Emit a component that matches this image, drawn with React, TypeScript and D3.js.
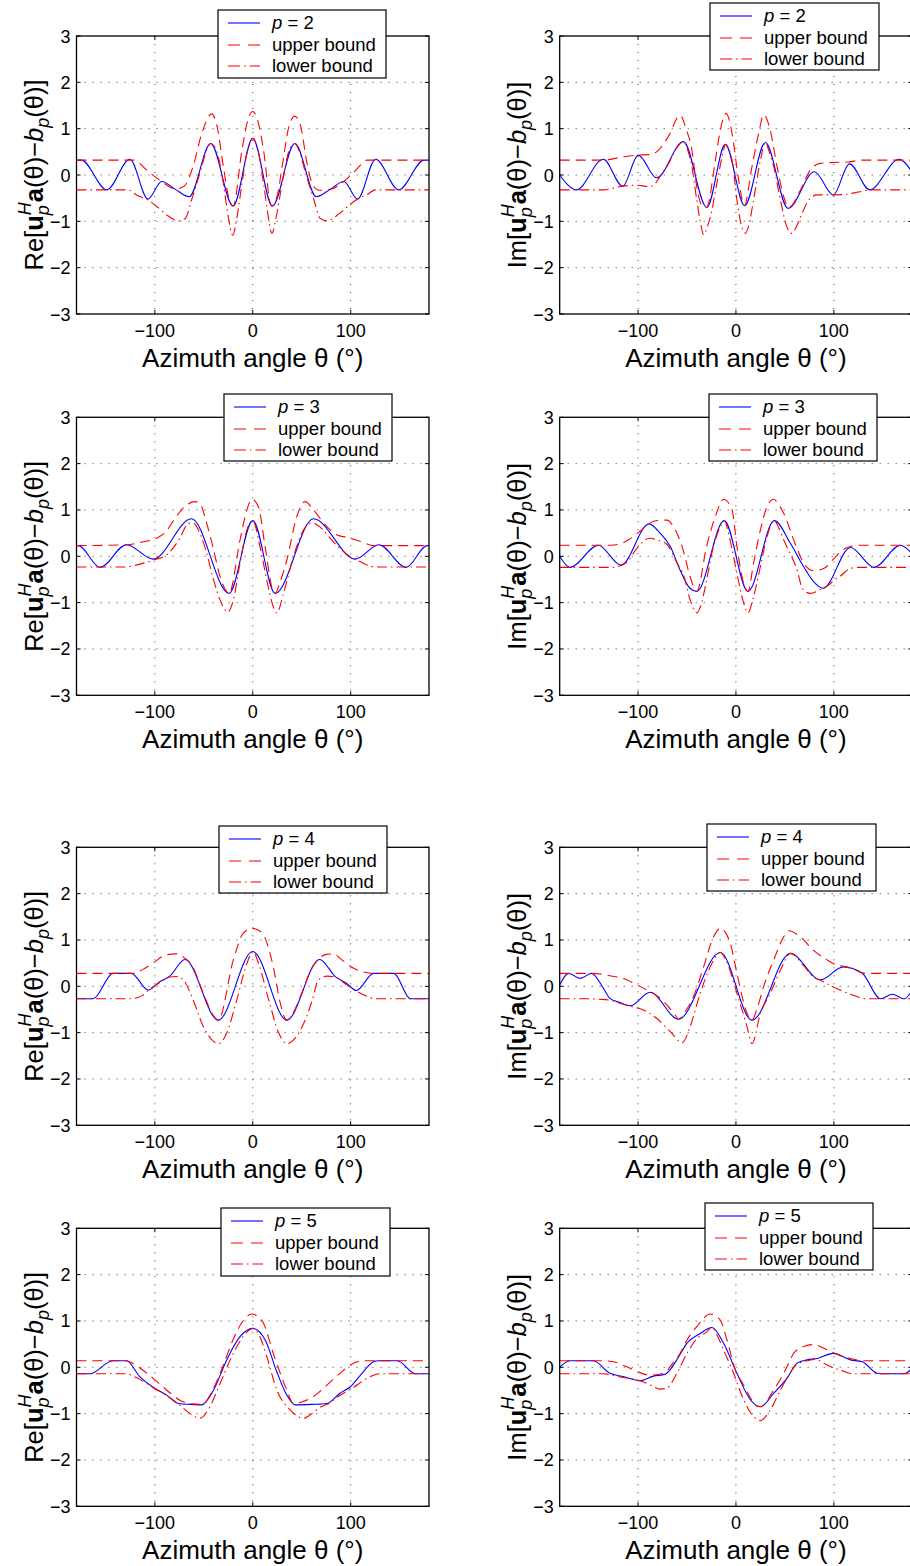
import React from 'react';
import * as d3 from 'd3';

type Pt = [number, number];

// Axis ticks shared by every panel
const thetaTicks = [-100, 0, 100];
const valueTicks = [-3, -2, -1, 0, 1, 2, 3];
const gridValues = [-2, -1, 0, 1, 2];

// ---- p = 2 ----
const re2Curve: Pt[] = [[-180,0.32],[-175,0.32],[-149,-0.32],[-125.5,0.34],[-107,-0.52],[-93,-0.14],[-79,-0.31],[-65,-0.47],[-43,0.68],[-20,-0.67],[0,0.79],[20,-0.67],[43,0.68],[65,-0.47],[79,-0.31],[93,-0.14],[107,-0.52],[125.5,0.34],[149,-0.32],[175,0.32],[180,0.32]];
const re2Upper: Pt[] = [[-180,0.32],[-122,0.32],[-107,0.08],[-93,-0.14],[-79,-0.3],[-70,-0.24],[-61,0.18],[-52,0.9],[-42,1.32],[-37,1.1],[-30,0.18],[-25,-0.45],[-20,-0.67],[-11,0.54],[-4.5,1.22],[0,1.37],[4.5,1.22],[11,0.54],[19,-0.67],[25,-0.45],[30,0.18],[37,1.05],[43,1.27],[49,1.05],[55,0.3],[61,-0.2],[68,-0.33],[79,-0.31],[93,-0.14],[105,0.1],[117,0.32],[180,0.32]];
const re2Lower: Pt[] = [[-180,-0.32],[-128,-0.32],[-117,-0.45],[-107,-0.54],[-98,-0.68],[-88,-0.86],[-76,-0.99],[-69,-0.94],[-62.5,-0.54],[-54,0.04],[-47,0.54],[-43,0.68],[-37,0.52],[-30,-0.18],[-25,-0.9],[-20.5,-1.3],[-16,-0.9],[-11,-0.18],[-6,0.47],[0,0.79],[6,0.47],[11,-0.18],[15.5,-0.85],[19.5,-1.26],[24,-0.9],[30,-0.18],[37,0.52],[43,0.68],[47,0.54],[54,0.04],[62.5,-0.54],[69,-0.94],[76,-0.99],[88,-0.84],[98,-0.66],[107,-0.52],[117,-0.42],[125,-0.32],[180,-0.32]];

const im2Curve: Pt[] = [[-180,0.0],[-163,-0.32],[-135.5,0.34],[-115.7,-0.24],[-99.7,0.43],[-81,-0.06],[-53.6,0.72],[-29.7,-0.7],[-10.9,0.66],[8.9,-0.66],[30,0.7],[53.2,-0.72],[80.2,0.07],[99.3,-0.43],[116,0.24],[136.5,-0.32],[166.6,0.34],[180,0.06]];
const im2Upper: Pt[] = [[-180,0.32],[-135,0.32],[-118,0.38],[-100,0.43],[-88,0.44],[-81,0.5],[-69,0.83],[-57,1.29],[-51,1.0],[-45,0.54],[-40,-0.25],[-35,-0.65],[-30,-0.7],[-21,0.32],[-16,0.97],[-10,1.33],[-4,0.9],[2.7,-0.1],[8.5,-0.66],[16.4,0.18],[23.2,0.9],[28.3,1.3],[35,0.97],[42,0.18],[48.8,-0.47],[54,-0.7],[66,-0.32],[76,0.11],[86,0.25],[100,0.27],[115,0.28],[127,0.32],[180,0.32]];
const im2Lower: Pt[] = [[-180,-0.32],[-135,-0.32],[-116,-0.24],[-100,-0.22],[-90,-0.25],[-84,-0.22],[-78,-0.04],[-70,0.2],[-60,0.6],[-53.6,0.72],[-49,0.52],[-45,0.18],[-40,-0.54],[-36,-1.05],[-33,-1.29],[-29,-1.1],[-26,-0.9],[-19.5,-0.18],[-12.6,0.54],[-10.9,0.66],[-4,0.32],[1,-0.54],[6,-1.12],[9.6,-1.26],[13,-1.1],[18,-0.54],[25,0.32],[30,0.7],[34,0.5],[38.6,0.18],[45.4,-0.54],[52,-1.12],[57.3,-1.26],[61,-1.15],[66,-0.9],[76,-0.5],[83,-0.43],[99.3,-0.43],[110,-0.42],[127,-0.36],[137.5,-0.32],[180,-0.32]];

// ---- p = 3 ----
const re3Curve: Pt[] = [[-180,0.23],[-178,0.23],[-156,-0.24],[-129,0.25],[-101.7,-0.06],[-62.5,0.81],[-24.2,-0.8],[0,0.77],[22.9,-0.8],[62,0.81],[104.8,-0.06],[128.7,0.25],[156.7,-0.24],[178,0.23],[180,0.23]];
const re3Upper: Pt[] = [[-180,0.23],[-128,0.25],[-115,0.3],[-98,0.39],[-88,0.55],[-80,0.8],[-72,1.02],[-59,1.18],[-54,1.14],[-47,0.71],[-40,0.14],[-33.4,-0.44],[-27,-0.75],[-24.2,-0.8],[-13,0.35],[-6,1.0],[-1,1.23],[5.8,1.07],[12.6,0.21],[20,-0.7],[22.9,-0.8],[28,-0.55],[34.8,-0.08],[45,0.86],[53.6,1.18],[62,1.0],[75.8,0.64],[86,0.46],[96,0.41],[110,0.32],[124,0.23],[180,0.23]];
const re3Lower: Pt[] = [[-180,-0.23],[-130,-0.23],[-119,-0.19],[-101.7,-0.08],[-88,0.03],[-74.4,0.39],[-66,0.71],[-61,0.72],[-54,0.5],[-47,0.06],[-40,-0.51],[-33.4,-0.94],[-25.5,-1.2],[-19.8,-0.94],[-13,-0.15],[-6,0.57],[0,0.77],[7.5,0.2],[14.3,-0.51],[21,-1.09],[24.6,-1.22],[31.4,-0.8],[41.6,0.0],[52,0.57],[60,0.72],[65.5,0.68],[72,0.57],[79,0.39],[92.8,0.1],[99.7,-0.01],[110,-0.12],[116.7,-0.19],[127,-0.23],[180,-0.23]];

const im3Curve: Pt[] = [[-180,0.0],[-169.6,-0.24],[-140.6,0.24],[-117.4,-0.19],[-88.7,0.7],[-77.5,0.5],[-67,0.21],[-57,-0.3],[-47,-0.69],[-40,-0.76],[-12,0.77],[12.3,-0.76],[39.2,0.77],[55.6,0.28],[69,-0.22],[79.5,-0.55],[89,-0.69],[117,0.19],[141,-0.24],[168,0.24],[180,0.05]];
const im3Upper: Pt[] = [[-180,0.24],[-128,0.24],[-118,0.27],[-110,0.35],[-98,0.54],[-88.7,0.71],[-78,0.78],[-70.6,0.78],[-62,0.57],[-55,0.21],[-46.8,-0.44],[-41.6,-0.73],[-40,-0.76],[-30,0.21],[-21,0.86],[-12.6,1.23],[-4,1.0],[1,0.21],[7.8,-0.58],[12.3,-0.76],[18,-0.15],[25,0.57],[31.7,1.07],[38.5,1.23],[44,1.1],[48.8,0.93],[59,0.35],[69.3,-0.15],[79.5,-0.31],[90,-0.26],[100,-0.05],[108,0.12],[117,0.21],[128,0.24],[180,0.24]];
const im3Lower: Pt[] = [[-180,-0.24],[-128,-0.24],[-117.4,-0.2],[-110,-0.1],[-103,0.12],[-88,0.39],[-77.5,0.33],[-70.6,0.26],[-60,-0.15],[-53,-0.44],[-46.8,-0.94],[-40,-1.22],[-35,-1.0],[-30,-0.51],[-23,0.21],[-16,0.64],[-12,0.77],[-6,0.35],[1,-0.37],[7.8,-1.0],[12.3,-1.22],[18,-0.87],[25,-0.22],[31.7,0.42],[39.2,0.77],[44,0.6],[48.8,0.35],[55.6,0.05],[62.5,-0.3],[68,-0.7],[76,-0.8],[86,-0.72],[96,-0.6],[100,-0.52],[107,-0.42],[117,-0.26],[125,-0.24],[180,-0.24]];

// ---- p = 4 ----
const re4Curve: Pt[] = [[-180,-0.27],[-163,-0.27],[-142.7,0.28],[-124,0.28],[-106.8,-0.08],[-95,0.1],[-84.6,0.22],[-69.3,0.58],[-35.2,-0.73],[0,0.75],[34.8,-0.73],[68.3,0.58],[84.3,0.21],[96,0.06],[105.8,-0.09],[123.5,0.28],[144,0.28],[161,-0.27],[180,-0.27]];
const re4Upper: Pt[] = [[-180,0.28],[-123,0.28],[-110,0.39],[-102,0.5],[-88,0.68],[-78,0.7],[-70,0.62],[-62,0.45],[-50,-0.18],[-40,-0.64],[-35.2,-0.73],[-19.8,0.57],[-9.6,1.15],[0,1.25],[9.6,1.15],[21,0.42],[28,-0.35],[34.8,-0.73],[40,-0.62],[50,-0.15],[60,0.38],[68,0.6],[75,0.69],[82.6,0.7],[91,0.57],[103,0.39],[113,0.31],[123,0.28],[180,0.28]];
const re4Lower: Pt[] = [[-180,-0.27],[-125,-0.27],[-112,-0.19],[-106.8,-0.09],[-95,0.08],[-84.6,0.2],[-77.8,0.21],[-71,0.14],[-60.8,-0.3],[-50.5,-0.87],[-40,-1.19],[-35,-1.24],[-26.6,-1.01],[-16.4,-0.3],[-6,0.49],[0,0.75],[6,0.49],[16.4,-0.3],[26.6,-1.01],[35,-1.24],[40,-1.19],[50.5,-0.87],[60.8,-0.3],[67,0.14],[76,0.22],[84.3,0.2],[96,0.03],[105.8,-0.1],[115,-0.2],[125,-0.27],[180,-0.27]];

const im4Curve: Pt[] = [[-180,0.03],[-171,0.28],[-159,0.17],[-147.4,0.28],[-135.5,-0.04],[-128.7,-0.26],[-118.4,-0.35],[-108,-0.42],[-87.7,-0.13],[-58.7,-0.71],[-16,0.73],[16.4,-0.73],[55.6,0.71],[86.3,0.14],[109.6,0.42],[129,0.28],[147.8,-0.27],[159.7,-0.17],[171.7,-0.27],[180,-0.08]];
const im4Upper: Pt[] = [[-180,0.28],[-147,0.28],[-132,0.24],[-111.6,0.14],[-101,0.03],[-91,-0.08],[-87.7,-0.12],[-81,-0.2],[-70.6,-0.4],[-62,-0.62],[-58.7,-0.71],[-52,-0.55],[-43.3,-0.22],[-33,0.42],[-22.9,1.07],[-16,1.25],[-5.8,0.93],[1,0.28],[11.3,-0.58],[16.4,-0.73],[22,-0.45],[28.3,0.0],[38.6,0.57],[48.8,1.07],[54,1.2],[65.5,1.07],[79,0.78],[93,0.57],[103,0.46],[110,0.43],[120,0.37],[129,0.29],[135,0.28],[180,0.28]];
const im4Lower: Pt[] = [[-180,-0.27],[-150,-0.27],[-140,-0.28],[-128.7,-0.3],[-118,-0.37],[-108,-0.43],[-94.5,-0.51],[-81,-0.69],[-67,-0.98],[-55,-1.22],[-46.8,-0.87],[-36.5,-0.15],[-26.3,0.42],[-16,0.73],[-9,0.5],[1,-0.15],[11.3,-0.87],[16.4,-1.24],[25,-0.58],[35,-0.15],[45.4,0.35],[55.6,0.71],[69,0.45],[79,0.2],[86.3,0.13],[100,-0.02],[117,-0.17],[134,-0.27],[180,-0.27]];

// ---- p = 5 ----
const re5Curve: Pt[] = [[-180,-0.14],[-166.6,-0.14],[-142.7,0.14],[-129,0.14],[-115.4,-0.2],[-101.7,-0.43],[-88,-0.6],[-76,-0.78],[-64,-0.8],[-52,-0.81],[-40,-0.49],[-26.6,0.16],[-13,0.66],[0,0.84],[13,0.58],[24.6,-0.1],[34.8,-0.6],[43.3,-0.81],[60,-0.8],[76,-0.78],[89,-0.56],[99.7,-0.42],[110,-0.17],[123.5,0.12],[129,0.14],[147.4,0.14],[166.6,-0.14],[180,-0.14]];
const re5Upper: Pt[] = [[-180,0.14],[-130,0.14],[-115,-0.02],[-101.7,-0.24],[-88,-0.49],[-74.4,-0.71],[-62,-0.79],[-52,-0.8],[-40,-0.45],[-30,0.05],[-20,0.6],[-10,1.0],[-1,1.15],[5,1.1],[11,0.95],[21,0.3],[34.8,-0.49],[41.6,-0.79],[50,-0.75],[62,-0.63],[76,-0.38],[89,-0.13],[103,0.09],[113,0.14],[180,0.14]];
const re5Lower: Pt[] = [[-180,-0.14],[-130,-0.14],[-119,-0.22],[-101.7,-0.44],[-88,-0.61],[-76,-0.79],[-64,-1.0],[-54,-1.1],[-43.7,-0.85],[-33.4,-0.35],[-19.8,0.3],[-6,0.76],[0,0.84],[6,0.72],[14.3,0.23],[24.6,-0.49],[38.2,-0.92],[52,-1.1],[62,-0.97],[70,-0.85],[76,-0.8],[88,-0.62],[101.7,-0.45],[115,-0.26],[122,-0.18],[130,-0.14],[180,-0.14]];

const im5Curve: Pt[] = [[-180,0.0],[-169.6,0.14],[-145.7,0.14],[-128.7,-0.13],[-115,-0.2],[-98,-0.29],[-84.3,-0.19],[-72.4,-0.15],[-60.4,0.16],[-50,0.52],[-36.5,0.73],[-24.6,0.86],[-12.6,0.52],[1,-0.13],[14.7,-0.7],[25,-0.85],[38.6,-0.56],[52,-0.24],[62.5,0.09],[72.7,0.16],[83,0.19],[99.3,0.3],[117,0.16],[129,0.12],[144,-0.13],[148,-0.14],[171.7,-0.14],[180,-0.02]];
const im5Upper: Pt[] = [[-180,0.14],[-135,0.14],[-125,0.12],[-111.6,0.01],[-101,-0.09],[-87.7,-0.17],[-78,-0.15],[-72,-0.11],[-67,0.02],[-57,0.3],[-50,0.59],[-40,0.88],[-26,1.15],[-16,1.02],[-9.2,0.59],[-0.7,-0.05],[7.8,-0.38],[14.7,-0.66],[21.5,-0.84],[25,-0.85],[38.6,-0.49],[48.8,-0.13],[59,0.3],[69.3,0.45],[79.5,0.49],[89.8,0.41],[100,0.31],[117,0.19],[130.7,0.14],[180,0.14]];
const im5Lower: Pt[] = [[-180,-0.14],[-135,-0.14],[-128.7,-0.16],[-115,-0.22],[-98,-0.29],[-87.7,-0.38],[-77.5,-0.47],[-70.6,-0.45],[-60.4,-0.13],[-50,0.3],[-40,0.62],[-30,0.76],[-24.6,0.86],[-19,0.68],[-12.6,0.37],[-2.4,-0.13],[7.8,-0.7],[18,-1.06],[25,-1.15],[35,-0.92],[45.4,-0.49],[52,-0.24],[62.5,0.07],[72.7,0.14],[80,0.17],[86,0.14],[93,0.05],[107,-0.06],[120,-0.14],[180,-0.14]];

const legendLabels = ['upper bound', 'lower bound'];

interface Panel {
  part: 'Re' | 'Im';
  p: number;
  curve: Pt[];
  upper: Pt[];
  lower: Pt[];
}

const panels: Panel[] = [
  { part: 'Re', p: 2, curve: re2Curve, upper: re2Upper, lower: re2Lower },
  { part: 'Im', p: 2, curve: im2Curve, upper: im2Upper, lower: im2Lower },
  { part: 'Re', p: 3, curve: re3Curve, upper: re3Upper, lower: re3Lower },
  { part: 'Im', p: 3, curve: im3Curve, upper: im3Upper, lower: im3Lower },
  { part: 'Re', p: 4, curve: re4Curve, upper: re4Upper, lower: re4Lower },
  { part: 'Im', p: 4, curve: im4Curve, upper: im4Upper, lower: im4Lower },
  { part: 'Re', p: 5, curve: re5Curve, upper: re5Upper, lower: re5Lower },
  { part: 'Im', p: 5, curve: im5Curve, upper: im5Upper, lower: im5Lower },
];

// Page layout
const W = 910;
const H = 1566;
const colLeft = [76.5, 559.7];
const rowTop = [36, 417.3, 847.3, 1228.3];
const plotW = 352.5;
const plotH = 278;
const legendBoxes = [
  { x: 218, y: 10, w: 168, h: 68 },
  { x: 710, y: 3, w: 169, h: 67 },
  { x: 224, y: 394, w: 168, h: 67 },
  { x: 709, y: 394, w: 168, h: 67 },
  { x: 219, y: 826, w: 168, h: 67 },
  { x: 707, y: 824, w: 169, h: 67 },
  { x: 221, y: 1208, w: 169, h: 68 },
  { x: 705, y: 1203, w: 168, h: 67 },
];

const FONT = '"Liberation Sans", Arial, Helvetica, sans-serif';
const BLUE = '#0000ff';
const RED = '#ff0000';
const DASH = '10,6';
const DASHDOT = '10,4,1.5,4';
const GRID_DASH = '1,7';

const minus = (v: number) => (v < 0 ? '\u2212' + Math.abs(v) : String(v));

function YLabel({ part, x, y }: { part: string; x: number; y: number }) {
  return (
    <text
      transform={`translate(${x},${y}) rotate(-90)`}
      textAnchor="middle"
      fontSize={25.5}
      fontFamily={FONT}
      fill="#000"
    >
      {part}[
      <tspan fontWeight="bold">u</tspan>
      <tspan fontStyle="italic" fontSize={18} dy={6}>p</tspan>
      <tspan fontStyle="italic" fontSize={18} dx={-10} dy={-17.5}>H</tspan>
      <tspan fontWeight="bold" dy={11.5}>a</tspan>
      <tspan>(θ)−</tspan>
      <tspan fontStyle="italic">b</tspan>
      <tspan fontStyle="italic" fontSize={18} dy={6}>p</tspan>
      <tspan dy={-6}>(θ)]</tspan>
    </text>
  );
}

function PanelView({ panel, index }: { panel: Panel; index: number }) {
  const col = index % 2;
  const row = Math.floor(index / 2);
  const x0 = colLeft[col];
  const y0 = rowTop[row];
  const x = d3.scaleLinear().domain([-180, 180]).range([x0, x0 + plotW]);
  const y = d3.scaleLinear().domain([-3, 3]).range([y0 + plotH, y0]);
  const line = d3
    .line<Pt>()
    .x((d) => x(d[0]))
    .y((d) => y(d[1]))
    .curve(d3.curveMonotoneX);
  const clipId = `plot-clip-${index}`;
  const lg = legendBoxes[index];
  const rowsY = [lg.y + 13, lg.y + 35, lg.y + 56];

  return (
    <g>
      <defs>
        <clipPath id={clipId}>
          <rect x={x0} y={y0} width={plotW} height={plotH} />
        </clipPath>
      </defs>
      {/* dotted grid */}
      <g stroke="#000" strokeWidth={1} strokeDasharray={GRID_DASH} opacity={0.75}>
        {thetaTicks.map((t) => (
          <line key={`gx${t}`} x1={x(t)} x2={x(t)} y1={y0} y2={y0 + plotH} />
        ))}
        {gridValues.map((v) => (
          <line key={`gy${v}`} x1={x0} x2={x0 + plotW} y1={y(v)} y2={y(v)} />
        ))}
      </g>
      {/* data */}
      <g clipPath={`url(#${clipId})`} fill="none">
        <path d={line(panel.curve) || ''} stroke={BLUE} strokeWidth={1.1} />
        <path d={line(panel.upper) || ''} stroke={RED} strokeWidth={1.1} strokeDasharray={DASH} />
        <path d={line(panel.lower) || ''} stroke={RED} strokeWidth={1.1} strokeDasharray={DASHDOT} />
      </g>
      {/* axes box and inward ticks */}
      <rect x={x0} y={y0} width={plotW} height={plotH} fill="none" stroke="#000" strokeWidth={1.3} />
      <g stroke="#000" strokeWidth={1}>
        {thetaTicks.map((t) => (
          <g key={`tx${t}`}>
            <line x1={x(t)} x2={x(t)} y1={y0 + plotH} y2={y0 + plotH - 4} />
            <line x1={x(t)} x2={x(t)} y1={y0} y2={y0 + 4} />
          </g>
        ))}
        {valueTicks.map((v) => (
          <g key={`ty${v}`}>
            <line x1={x0} x2={x0 + 4} y1={y(v)} y2={y(v)} />
            <line x1={x0 + plotW} x2={x0 + plotW - 4} y1={y(v)} y2={y(v)} />
          </g>
        ))}
      </g>
      {/* tick labels */}
      <g fontFamily={FONT} fontSize={18} fill="#000">
        {valueTicks.map((v) => (
          <text key={`ly${v}`} x={x0 - 6} y={y(v) + 6.5} textAnchor="end">
            {minus(v)}
          </text>
        ))}
        {thetaTicks.map((t) => (
          <text key={`lx${t}`} x={x(t)} y={y0 + plotH + 23} textAnchor="middle">
            {minus(t)}
          </text>
        ))}
      </g>
      {/* axis titles */}
      <text
        x={x0 + plotW / 2}
        y={y0 + plotH + 53}
        textAnchor="middle"
        fontFamily={FONT}
        fontSize={26}
        fill="#000"
      >
        Azimuth angle θ (°)
      </text>
      <YLabel part={panel.part} x={x0 - 34} y={y0 + plotH / 2} />
      {/* legend */}
      <g>
        <rect x={lg.x} y={lg.y} width={lg.w} height={lg.h} fill="#fff" stroke="#000" strokeWidth={1.2} />
        <line x1={lg.x + 10} x2={lg.x + 42} y1={rowsY[0]} y2={rowsY[0]} stroke={BLUE} strokeWidth={1.1} />
        <line x1={lg.x + 10} x2={lg.x + 42} y1={rowsY[1]} y2={rowsY[1]} stroke={RED} strokeWidth={1.1} strokeDasharray="12,8" />
        <line x1={lg.x + 10} x2={lg.x + 42} y1={rowsY[2]} y2={rowsY[2]} stroke={RED} strokeWidth={1.1} strokeDasharray="12,4,1.5,4" />
        <g fontFamily={FONT} fontSize={18.5} fill="#000">
          <text x={lg.x + 54} y={rowsY[0] + 6}>
            <tspan fontStyle="italic">p</tspan> = {panel.p}
          </text>
          <text x={lg.x + 54} y={rowsY[1] + 6}>{legendLabels[0]}</text>
          <text x={lg.x + 54} y={rowsY[2] + 6}>{legendLabels[1]}</text>
        </g>
      </g>
    </g>
  );
}

export default function App() {
  return (
    <div style={{ position: 'absolute', left: 0, top: 0 }}>
      <svg width={W} height={H} viewBox={`0 0 ${W} ${H}`} style={{ display: 'block', background: '#fff' }}>
        <rect x={0} y={0} width={W} height={H} fill="#fff" />
        {panels.map((p, i) => (
          <PanelView key={i} panel={p} index={i} />
        ))}
      </svg>
    </div>
  );
}
